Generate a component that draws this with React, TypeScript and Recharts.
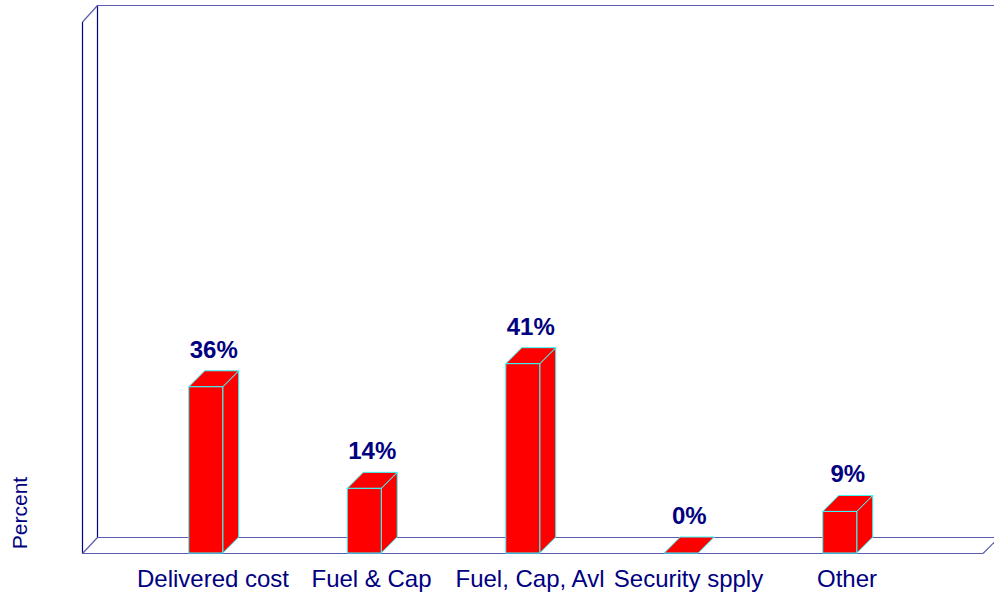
import React from 'react';
import { BarChart, Bar, XAxis, YAxis, LabelList, Customized } from 'recharts';

const categories = ['Delivered cost', 'Fuel & Cap', 'Fuel, Cap, Avl', 'Security spply', 'Other'];
const values = [36, 14, 41, 0, 9];
const yDomain = [0, 115];

const data = categories.map((name, i) => ({ name, value: values[i] }));

const W = 994;
const H = 599;
const DEPTH = 16;
const NAVY = '#000080';
const FLOOR = '#5c5cb0';
const FONT = '"Liberation Sans", Arial, sans-serif';

const Box3D = (props: any) => {
  const { x, y, width, height } = props;
  const d = DEPTH;
  const stroke = '#33ffff';
  const top = `${x},${y} ${x + d},${y - d} ${x + width + d},${y - d} ${x + width},${y}`;
  const side = `${x + width},${y} ${x + width + d},${y - d} ${x + width + d},${y + height - d} ${x + width},${y + height}`;
  return (
    <g>
      {height > 0 && <polygon points={side} fill="#ff0000" stroke={stroke} strokeWidth={1} />}
      <polygon points={top} fill="#ff0000" stroke={stroke} strokeWidth={1} />
      {height > 0 && <rect x={x} y={y} width={width} height={height} fill="#ff0000" stroke={stroke} strokeWidth={1} />}
    </g>
  );
};

const ValueLabel = (props: any) => {
  const { x, y, width, value } = props;
  return (
    <text x={x + width / 2 + DEPTH / 2} y={y - 29} textAnchor="middle" fill={NAVY}
      fontFamily={FONT} fontWeight="bold" fontSize={24}>
      {`${value}%`}
    </text>
  );
};

const CatTick = (props: any) => {
  const { x, y, payload } = props;
  return (
    <text x={x + DEPTH / 2 - 1} y={y + 34} textAnchor="middle" fill={NAVY} fontFamily={FONT} fontSize={24}>
      {payload.value}
    </text>
  );
};

const Frame = () => {
  const fl = 82.5, fb = 553.5, ft = 22, fr = 983;
  const bl = 97.5, bb = 537.5, bt = 5.5, br = 994;
  return (
    <g>
      <line x1={bl} y1={bt} x2={br} y2={bt} stroke={FLOOR} strokeWidth={1.2} />
      <line x1={bl} y1={bb} x2={br} y2={bb} stroke={FLOOR} strokeWidth={1.2} />
      <line x1={bl} y1={bt} x2={bl} y2={bb} stroke={NAVY} strokeWidth={1.2} />
      <line x1={fl} y1={ft} x2={fl} y2={fb} stroke={NAVY} strokeWidth={1.2} />
      <line x1={fl} y1={ft} x2={bl} y2={bt} stroke={FLOOR} strokeWidth={1.2} />
      <line x1={fl} y1={fb} x2={bl} y2={bb} stroke={FLOOR} strokeWidth={1.2} />
      <line x1={fl} y1={fb} x2={fr} y2={fb} stroke={FLOOR} strokeWidth={1.2} />
      <line x1={fr} y1={fb} x2={fr + (fb - bb)} y2={bb} stroke={FLOOR} strokeWidth={1.2} />
      <text x={19} y={513} transform="rotate(-90 19 513)" textAnchor="middle" dominantBaseline="central"
        fill={NAVY} fontFamily={FONT} fontSize={21}>
        Percent
      </text>
    </g>
  );
};

export default function App() {
  return (
    <div style={{ position: 'absolute', left: 0, top: 0, width: W, height: H, background: '#fff' }}>
      <BarChart width={W} height={H} data={data}
        margin={{ top: 22, right: 74.75, bottom: 0, left: 126.75 }} barSize={34}>
        <Customized component={Frame} />
        <XAxis dataKey="name" axisLine={false} tickLine={false} tickSize={0} tickMargin={0}
          height={46} tick={<CatTick />} interval={0} />
        <YAxis hide domain={yDomain} />
        <Bar dataKey="value" isAnimationActive={false} shape={<Box3D />}>
          <LabelList dataKey="value" content={<ValueLabel />} />
        </Bar>
      </BarChart>
    </div>
  );
}
